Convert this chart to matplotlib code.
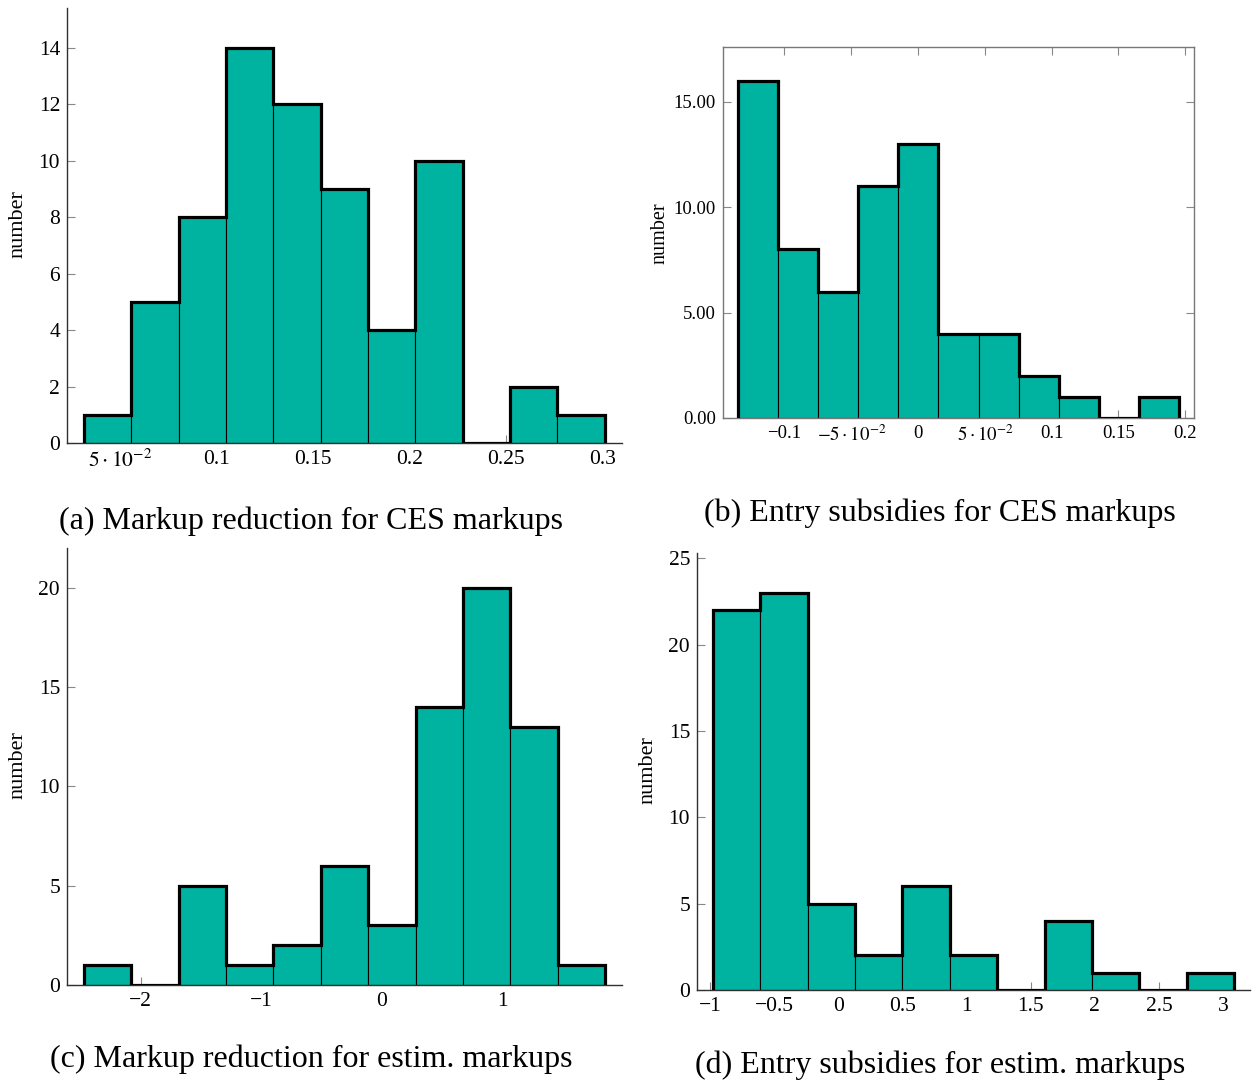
import numpy as np
import matplotlib
matplotlib.use("Agg")
import matplotlib.pyplot as plt

plt.rcParams['font.family'] = ['Liberation Serif', 'DejaVu Serif']
plt.rcParams['mathtext.fontset'] = 'stix'
plt.rcParams['axes.unicode_minus'] = True

# histogram data (bin edges + counts)
edges_a = [0.0312, 0.0557, 0.0803, 0.1048, 0.1293, 0.1539, 0.1784, 0.2029, 0.2274, 0.2520, 0.2765, 0.3010]
counts_a = [1, 5, 8, 14, 12, 9, 4, 10, 0, 2, 1]

edges_b = [-0.1347, -0.1047, -0.0747, -0.0447, -0.0147, 0.0153, 0.0453, 0.0753, 0.1053, 0.1353, 0.1653, 0.1953]
counts_b = [16, 8, 6, 11, 13, 4, 4, 2, 1, 0, 1]

edges_c = [-2.469, -2.077, -1.684, -1.292, -0.900, -0.507, -0.115, 0.278, 0.670, 1.062, 1.455, 1.847]
counts_c = [1, 0, 5, 1, 2, 6, 3, 14, 20, 13, 1]

edges_d = [-0.977, -0.608, -0.238, 0.131, 0.501, 0.870, 1.240, 1.609, 1.978, 2.348, 2.717, 3.087]
counts_d = [22, 23, 5, 2, 6, 2, 0, 4, 1, 0, 1]

xticks_a = [0.05, 0.1, 0.15, 0.2, 0.25, 0.3]
xlabels_a = [r'$5\cdot10^{-2}$', '0.1', '0.15', '0.2', '0.25', '0.3']
yticks_a = [0, 2, 4, 6, 8, 10, 12, 14]

xticks_b = [-0.1, -0.05, 0, 0.05, 0.1, 0.15, 0.2]
xlabels_b = ['\u22120.1', r'$-5\cdot10^{-2}$', '0', r'$5\cdot10^{-2}$', '0.1', '0.15', '0.2']
yticks_b = [0, 5, 10, 15]
ylabels_b = ['0.00', '5.00', '10.00', '15.00']

xticks_c = [-2, -1, 0, 1]
yticks_c = [0, 5, 10, 15, 20]

xticks_d = [-1, -0.5, 0, 0.5, 1, 1.5, 2, 2.5, 3]
xlabels_d = ['\u22121', '\u22120.5', '0', '0.5', '1', '1.5', '2', '2.5', '3']
yticks_d = [0, 5, 10, 15, 20, 25]

captions = ['(a) Markup reduction for CES markups',
            '(b) Entry subsidies for CES markups',
            '(c) Markup reduction for estim. markups',
            '(d) Entry subsidies for estim. markups']

FILL = '#00B3A0'
W, H = 1258, 1082
fig = plt.figure(figsize=(W / 100, H / 100), dpi=100)


def px_axes(x0, x1, ytop, ybot):
    return fig.add_axes([x0 / W, 1 - ybot / H, (x1 - x0) / W, (ybot - ytop) / H])


def draw_hist(ax, edges, counts):
    edges = np.array(edges)
    ax.bar(edges[:-1], counts, width=np.diff(edges), align='edge',
           color=FILL, edgecolor='black', linewidth=0.8, zorder=2)
    ax.stairs(counts, edges, baseline=0, color='black', linewidth=2.3, zorder=3)
    ax.set_ylim(0, 1.1 * max(counts))
    ax.set_axisbelow(True)


def open_style(ax, size=15.5):
    for s in ['top', 'right']:
        ax.spines[s].set_visible(False)
    for s in ['left', 'bottom']:
        ax.spines[s].set_color('#303030')
        ax.spines[s].set_linewidth(1.0)
    ax.tick_params(direction='in', length=6, width=0.8, color='#888888',
                   labelsize=size, pad=5)


# (a)
ax = px_axes(67, 622, 8, 443)
draw_hist(ax, edges_a, counts_a)
ax.set_xlim(0.0224, 0.310)
ax.set_xticks(xticks_a, xlabels_a)
ax.set_yticks(yticks_a)
open_style(ax)

# (b)
ax = px_axes(723, 1194, 47, 418)
draw_hist(ax, edges_b, counts_b)
ax.set_xlim(-0.146, 0.2066)
ax.set_xticks(xticks_b, xlabels_b)
ax.set_yticks(yticks_b, ylabels_b)
for s in ax.spines.values():
    s.set_color('#777777')
    s.set_linewidth(1.0)
ax.tick_params(direction='in', length=6, width=0.8, color='#888888',
               labelsize=13.5, pad=5, top=True, right=True)

# (c)
ax = px_axes(67, 622, 548, 985)
draw_hist(ax, edges_c, counts_c)
ax.set_xlim(-2.61, 1.988)
ax.set_xticks(xticks_c, ['\u22122', '\u22121', '0', '1'])
ax.set_yticks(yticks_c)
open_style(ax)

# (d)
ax = px_axes(697, 1250, 553, 990)
draw_hist(ax, edges_d, counts_d)
ax.set_xlim(-1.101, 3.21)
ax.set_xticks(xticks_d, xlabels_d)
ax.set_yticks(yticks_d)
open_style(ax)

# y labels
for (x, y), sz in zip([(18, 224), (660, 233), (18, 765), (648, 770)], [16, 14.5, 16, 16]):
    fig.text(x / W, 1 - y / H, 'number', rotation=90, ha='center', va='center', fontsize=sz)

# captions
for (x, y), txt in zip([(311, 521), (940, 513), (311, 1059), (940, 1065)], captions):
    fig.text(x / W, 1 - y / H, txt, ha='center', va='center', fontsize=23)

fig.savefig('out.png', dpi=100)
